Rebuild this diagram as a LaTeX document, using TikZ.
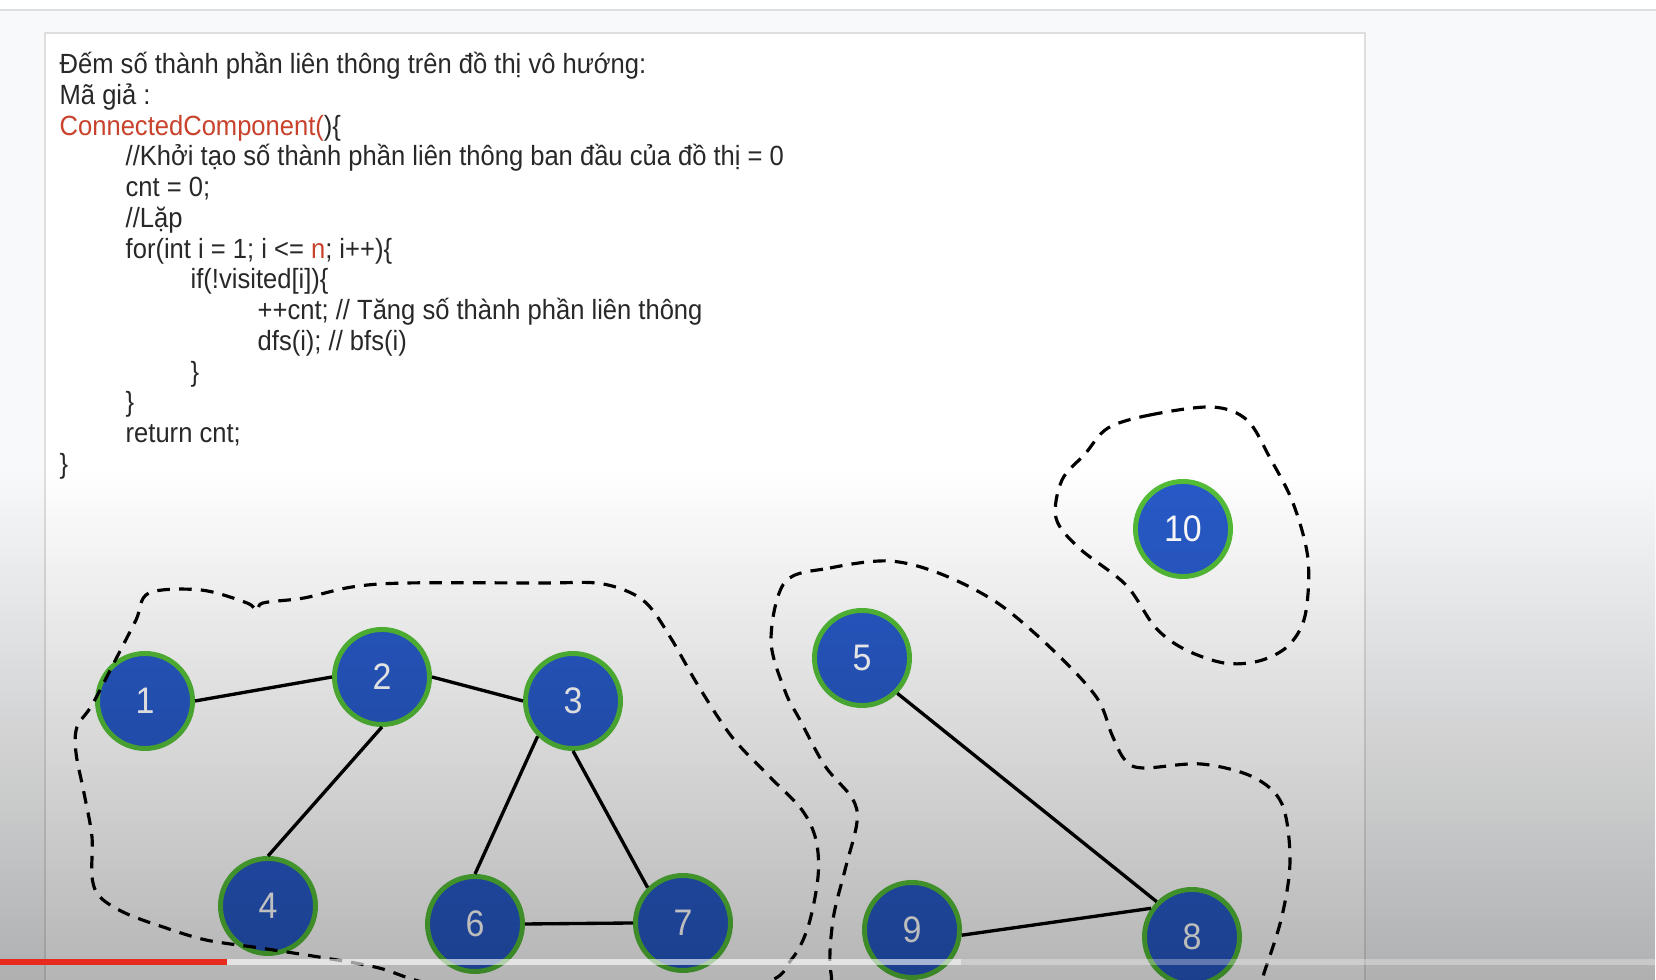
\documentclass[tikz,border=0pt]{standalone}
\usepackage{fontspec}
\setmainfont[FakeStretch=0.92]{Liberation Sans}
\usepackage{tikz}
\usetikzlibrary{fadings}
\usepackage{xcolor}

\definecolor{nodeblue}{RGB}{40,90,200}
\definecolor{nodegreen}{RGB}{84,190,56}
\definecolor{codered}{RGB}{200,66,44}
\definecolor{textgray}{RGB}{40,40,40}
\definecolor{pagegray}{RGB}{248,249,250}
\definecolor{framegray}{RGB}{222,222,222}
\definecolor{barred}{RGB}{232,42,30}

\tikzfading[name=fadedown, top color=transparent!100, bottom color=transparent!0]

\begin{document}
\begin{tikzpicture}[x=0.01cm, y=-0.01cm,
  vertex/.style={circle, fill=nodeblue, draw=nodegreen, line width=1.4pt,
    minimum size=0.95cm, inner sep=0pt, text=white, font=\fontsize{10.5}{12}\selectfont},
  link/.style={line width=0.95pt},
  blob/.style={line width=0.9pt, dash pattern=on 3.6pt off 2.6pt},
  codeline/.style={anchor=base west, inner sep=0pt, text=textgray,
    font=\fontsize{7.9}{10}\selectfont}
]
\useasboundingbox (0,0) rectangle (1656,980);
\clip (0,0) rectangle (1656,980);

% -------- Nen --------
\fill[pagegray] (0,0) rectangle (1656,980);
\fill[white] (0,0) rectangle (1656,10);
\draw[framegray] (0,10) -- (1656,10);
\fill[white] (45,33) rectangle (1365,990);
\draw[framegray] (45,990) -- (45,33) -- (1365,33) -- (1365,990);

% -------- Ma gia --------
\node[codeline] (l1) at (59,74) {Đếm số thành phần liên thông trên đồ thị vô hướng:};
\node[codeline] (l2) at (59,105) {Mã giả :};
\node[codeline] (l3) at (59,136) {\textcolor{codered}{ConnectedComponent(})\{};
\node[codeline] (l4) at (125,166) {//Khởi tạo số thành phần liên thông ban đầu của đồ thị = 0};
\node[codeline] (l5) at (125,197) {cnt = 0;};
\node[codeline] (l6) at (125,228) {//Lặp};
\node[codeline] (l7) at (125,259) {for(int i = 1; i <= \textcolor{codered}{n}; i++)\{};
\node[codeline] (l8) at (190,289) {if(!visited[i])\{};
\node[codeline] (l9) at (257,320) {++cnt; // Tăng số thành phần liên thông};
\node[codeline] (l10) at (257,351) {dfs(i); // bfs(i)};
\node[codeline] (l11) at (190,382) {\}};
\node[codeline] (l12) at (125,412) {\}};
\node[codeline] (l13) at (125,443) {return cnt;};
\node[codeline] (l14) at (59,474) {\}};

% -------- Do thi --------
\node[vertex] (v1) at (145,701) {1};
\node[vertex] (v2) at (382,677) {2};
\node[vertex] (v3) at (573,701) {3};
\node[vertex] (v4) at (268,906) {4};
\node[vertex] (v6) at (475,924) {6};
\node[vertex] (v7) at (683,923) {7};
\node[vertex] (v5) at (862,658) {5};
\node[vertex] (v9) at (912,930) {9};
\node[vertex] (v8) at (1192,937) {8};
\node[vertex] (v10) at (1183,529) {10};

% Canh
\draw[link] (v1.east) -- (v2.west);
\draw[link] (v2.east) -- (v3.west);
\draw[link] (v2.south) -- (v4.north);
\draw[link] (v3.south west) -- (v6.north);
\draw[link] (v3.south) -- (v7.north west);
\draw[link] (v6.east) -- (v7.west);
\draw[link] (v5.south east) -- (v8.north west);
\draw[link] (v9.-6) -- (v8.145);

% Thanh phan lien thong
\draw[blob] plot[smooth cycle, tension=0.55] coordinates {
  (149,593) (201,590) (247,603) (257,611) (263,603) (304,598) (352,587)
  (407,583) (542,583) (596,583) (629,592) (650,607) (672,640) (699,687)
  (732,737) (770,777) (802,810) (816,840) (818,877) (808,927) (791,960)
  (759,985) (600,1020) (434,985) (379,968) (325,958) (260,948) (206,940)
  (163,927) (125,913) (100,897) (92,877) (92,837) (84,793) (76,753)
  (77,727) (92,705) (117,657) (136,620)};
\draw[blob] plot[smooth cycle, tension=0.55] coordinates {
  (785,582) (830,568) (889,561) (941,574) (999,604) (1056,653) (1097,698)
  (1112,735) (1125,760) (1143,768) (1201,764) (1253,777) (1282,804)
  (1290,860) (1282,916) (1264,973) (1250,1010) (1000,1030) (850,1010)
  (831,973) (833,920) (845,870) (857,822) (852,798) (825,766) (800,720)
  (785,691) (771,640)};
\draw[blob] plot[smooth cycle, tension=0.55] coordinates {
  (1108,428) (1150,415) (1212,407) (1247,420) (1270,458) (1293,503)
  (1308,559) (1305,616) (1288,646) (1259,661) (1224,663) (1184,649)
  (1155,627) (1126,585) (1079,548) (1056,518) (1062,480) (1085,454)};

% -------- Lop toi phia duoi + thanh tien trinh --------
\fill[black, opacity=0.29, path fading=fadedown] (0,470) rectangle (1656,980);
\fill[white, opacity=0.3] (0,959) rectangle (1656,965);
\fill[white, opacity=0.45] (227,959) rectangle (961,965);
\fill[barred] (0,959) rectangle (227,965);
\end{tikzpicture}
\end{document}
